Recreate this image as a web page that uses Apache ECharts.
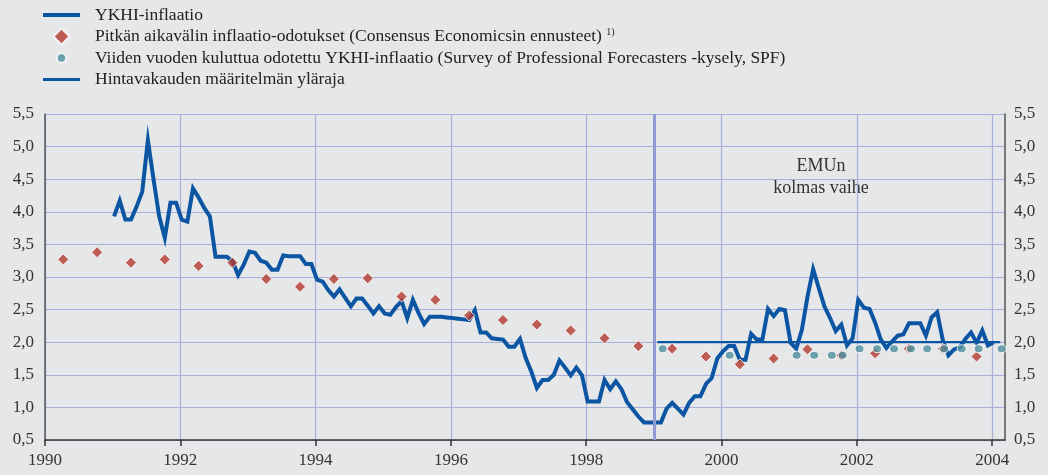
<!DOCTYPE html>
<html>
<head>
<meta charset="utf-8">
<script src="https://cdn.jsdelivr.net/npm/echarts@6/dist/echarts.min.js"></script>
<style>
  html, body { margin: 0; padding: 0; background: #e6e7e9; }
  #chart { width: 1048px; height: 475px; }
</style>
</head>
<body>
<div id="chart"></div>
<script>
// YKHI-inflaatio, kuukausittain, tammikuu 1991 - tammikuu 2004
const ykhiStartYear = 1991
const ykhiValues = [
  3.93, 4.17, 3.88, 3.88, 4.08, 4.31, 5.10, 4.50, 3.93, 3.60, 4.14, 4.14,
  3.88, 3.85, 4.36, 4.22, 4.06, 3.93, 3.31, 3.31, 3.31, 3.24, 3.03, 3.19,
  3.39, 3.37, 3.25, 3.22, 3.11, 3.11, 3.33, 3.32, 3.32, 3.32, 3.20, 3.20,
  2.96, 2.93, 2.80, 2.70, 2.81, 2.68, 2.55, 2.67, 2.67, 2.56, 2.44, 2.55,
  2.44, 2.42, 2.54, 2.63, 2.37, 2.65, 2.45, 2.28, 2.39, 2.39, 2.39, 2.38,
  2.37, 2.36, 2.35, 2.34, 2.49, 2.15, 2.15, 2.06, 2.05, 2.04, 1.93, 1.93,
  2.05, 1.76, 1.55, 1.30, 1.42, 1.42, 1.50, 1.72, 1.61, 1.49, 1.61, 1.49,
  1.09, 1.09, 1.09, 1.42, 1.28, 1.40, 1.28, 1.08, 0.97, 0.86, 0.77, 0.77,
  0.77, 0.77, 0.98, 1.07, 0.98, 0.89, 1.07, 1.17, 1.17, 1.36, 1.45, 1.75,
  1.86, 1.94, 1.94, 1.73, 1.73, 2.13, 2.04, 2.04, 2.51, 2.40, 2.51, 2.49,
  1.99, 1.90, 2.19, 2.70, 3.12, 2.83, 2.55, 2.37, 2.17, 2.27, 1.95, 2.06,
  2.65, 2.53, 2.51, 2.30, 2.04, 1.91, 2.01, 2.10, 2.12, 2.29, 2.29, 2.29,
  2.10, 2.38, 2.46, 2.03, 1.80, 1.89, 1.92, 2.05, 2.15, 1.99, 2.18, 1.95,
  2.00
]

// Consensus Economics, huhtikuu ja lokakuu
const consensusYears = [
  1990.27, 1990.77, 1991.27, 1991.77, 1992.27, 1992.77, 1993.27, 1993.77,
  1994.27, 1994.77, 1995.27, 1995.77, 1996.27, 1996.77, 1997.27, 1997.77,
  1998.27, 1998.77, 1999.27, 1999.77, 2000.27, 2000.77, 2001.27, 2001.77,
  2002.27, 2002.77, 2003.27, 2003.77
]
const consensusValues = [
  3.27, 3.38, 3.22, 3.27, 3.17, 3.22, 2.97, 2.85,
  2.97, 2.98, 2.70, 2.65, 2.41, 2.34, 2.27, 2.18,
  2.06, 1.94, 1.90, 1.78, 1.66, 1.75, 1.89, 1.80,
  1.83, 1.90, 1.90, 1.78
]

// SPF, viiden vuoden kuluttua odotettu inflaatio
const spfYears = [
  1999.13, 2000.12, 2001.11, 2001.37, 2001.63, 2001.79, 2002.04, 2002.30,
  2002.55, 2002.80, 2003.04, 2003.29, 2003.55, 2003.80, 2004.14
]
const spfValues = [
  1.9, 1.8, 1.8, 1.8, 1.8, 1.8, 1.9, 1.9,
  1.9, 1.9, 1.9, 1.9, 1.9, 1.9, 1.9
]

// hintavakauden määritelmän yläraja
const ceilingYears = [1999.05, 2004.12]
const ceilingValues = [2.0, 2.0]

const yearTicks = [1990, 1992, 1994, 1996, 1998, 2000, 2002, 2004]
const emuStartYear = 1999

const names = [
  'YKHI-inflaatio',
  'Pitkän aikavälin inflaatio-odotukset (Consensus Economicsin ennusteet)',
  'Viiden vuoden kuluttua odotettu YKHI-inflaatio (Survey of Professional Forecasters -kysely, SPF)',
  'Hintavakauden määritelmän yläraja'
]

const font = 'Liberation Serif'
const gridColor = '#a6b0db'
const axisColor = '#555'
const blue = '#0b55a2'

let ykhiData = ykhiValues.map((v, i) => [ykhiStartYear + (i + 0.25) / 12, v])
let consensusData = consensusYears.map((y, i) => [y, consensusValues[i]])
let spfData = spfYears.map((y, i) => [y, spfValues[i]])
let ceilingData = ceilingYears.map((y, i) => [y, ceilingValues[i]])

let chart = echarts.init(document.getElementById('chart'))

function yLabel(v) {
  return v.toFixed(1).replace('.', ',')
}

function yAxis(pos) {
  return {
    type: 'value',
    position: pos,
    min: 0.5,
    max: 5.5,
    interval: 0.5,
    axisLine: { show: true, lineStyle: { color: axisColor, width: 1.5 } },
    axisTick: { show: false },
    axisLabel: {
      formatter: yLabel,
      fontFamily: font,
      fontSize: 17,
      color: '#333',
      margin: pos === 'left' ? 11 : 9
    },
    splitLine: pos === 'left' ? { show: true, lineStyle: { color: gridColor, width: 1.2 } } : { show: false }
  }
}

let option = {
  backgroundColor: '#e6e7e9',
  animation: false,
  grid: { left: 45, right: 43, top: 114, bottom: 35 },
  legend: {
    orient: 'vertical',
    left: 38,
    top: 1,
    itemWidth: 37,
    itemHeight: 16,
    itemGap: 3.5,
    symbolKeepAspect: true,
    textStyle: {
      fontFamily: font,
      fontSize: 17.5,
      color: '#222',
      padding: [0, 0, 0, 10],
      rich: {
        sup: { fontFamily: font, fontSize: 10, color: '#222', verticalAlign: 'top', padding: [0, 0, 8, 0] }
      }
    },
    formatter: function (name) {
      if (name === names[1]) {
        return name + ' {sup|1)}'
      }
      return name
    },
    data: [
      { name: names[0], icon: 'path://M0,0L37,0L37,4L0,4Z' },
      { name: names[1], icon: 'path://M0,-6L6,0L0,6L-6,0Z' },
      { name: names[2], icon: 'path://M0,-6L0,-6M0,6L0,6M-3.5,0A3.5,3.5,0,1,0,3.5,0A3.5,3.5,0,1,0,-3.5,0Z' },
      { name: names[3], icon: 'path://M0,0L37,0L37,3L0,3Z' }
    ]
  },
  graphic: [{
    type: 'text',
    x: 821,
    y: 155,
    style: {
      text: 'EMUn\nkolmas vaihe',
      align: 'center',
      fontFamily: font,
      fontSize: 18,
      lineHeight: 22,
      fill: '#333'
    }
  }],
  xAxis: {
    type: 'value',
    min: 1990,
    max: 2004.19,
    interval: 2,
    axisLine: { show: true, onZero: false, lineStyle: { color: '#333', width: 1.5 } },
    axisTick: { show: true, length: 6, customValues: yearTicks, lineStyle: { color: '#333', width: 1.5 } },
    axisLabel: {
      customValues: yearTicks,
      formatter: v => String(v),
      fontFamily: font,
      fontSize: 17,
      color: '#333',
      margin: 12
    },
    splitLine: { show: true, lineStyle: { color: gridColor, width: 1.2 } }
  },
  yAxis: [yAxis('left'), yAxis('right')],
  series: [
    {
      name: names[0],
      type: 'line',
      data: ykhiData,
      symbol: 'none',
      z: 3,
      lineStyle: { color: blue, width: 4, join: 'miter' },
      itemStyle: { color: blue },
      markLine: {
        silent: true,
        symbol: 'none',
        label: { show: false },
        lineStyle: { color: '#8f9bd2', width: 3, type: 'solid' },
        data: [{ xAxis: emuStartYear }]
      }
    },
    {
      name: names[1],
      type: 'scatter',
      data: consensusData,
      symbol: 'diamond',
      symbolSize: 11,
      z: 4,
      itemStyle: { color: '#b23a2f', borderColor: '#fff', borderWidth: 1 }
    },
    {
      name: names[2],
      type: 'scatter',
      data: spfData,
      symbol: 'circle',
      symbolSize: [9, 8],
      z: 5,
      itemStyle: { color: '#4d8e9c', borderColor: '#fff', borderWidth: 1 }
    },
    {
      name: names[3],
      type: 'line',
      data: ceilingData,
      symbol: 'none',
      z: 3,
      lineStyle: { color: blue, width: 2.2 },
      itemStyle: { color: blue }
    }
  ]
}

chart.setOption(option)
</script>
</body>
</html>
